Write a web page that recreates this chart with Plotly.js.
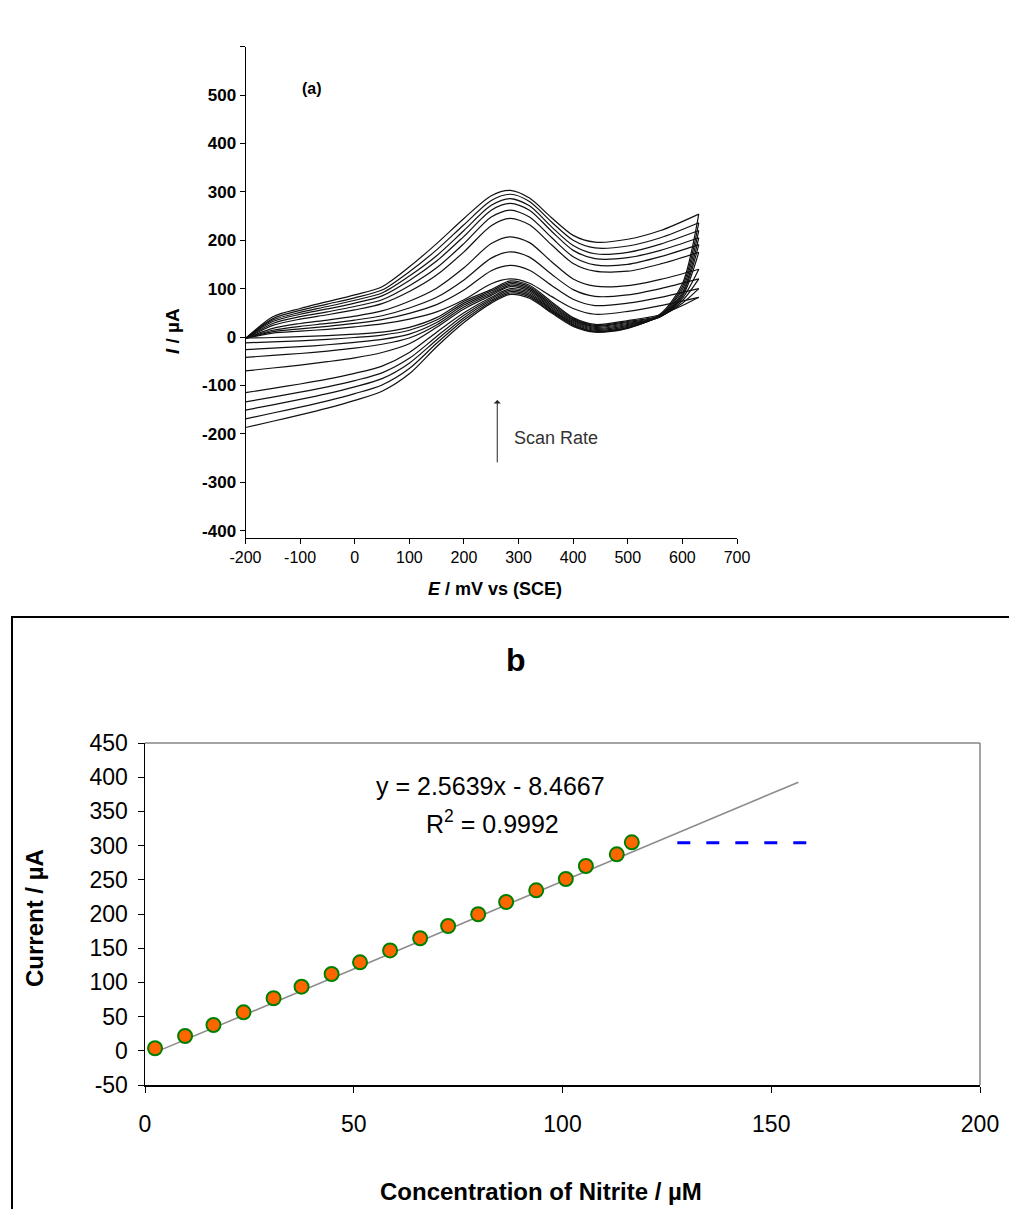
<!DOCTYPE html>
<html><head><meta charset="utf-8">
<script src="https://cdn.plot.ly/plotly-3.0.1.min.js"></script>
<style>body{margin:0;background:#fff}#chart{width:1009px;height:1209px}</style>
</head><body><div id="chart"></div>
<script>
// ---------- Panel (a): cyclic voltammograms ----------
const potentialUp = [-200,-150,-100,-50,0,50,100,150,200,250,285,320,360,400,440,500,560,630];
const upper1  = [-3,42,59,73,87,104,145,193,245,292,303,287,247,210,196,202,220,254];
const upper2  = [-3,38,55,68,81,97,135,180,232,282,295,280,238,200,184,188,205,236];
const upper3  = [-3,35,51,63,76,91,126,168,220,272,286,271,228,189,172,175,192,220];
const upper4  = [-3,32,47,58,70,85,117,157,208,262,276,262,219,179,162,164,179,205];
const upper5  = [-3,28,42,52,63,77,106,143,193,248,262,248,206,166,149,150,166,191];
const upper6  = [-3,24,37,46,56,69,94,128,176,230,245,232,191,152,136,136,151,175];
const upper7  = [-3,18,28,35,43,54,74,101,143,193,207,195,156,120,105,106,119,140];
const upper8  = [-3,14,22,28,35,44,60,82,118,163,176,165,130,98,84,87,100,120];
const upper9  = [-3,11,17,22,28,36,49,67,97,137,148,138,107,78,65,70,82,100];
const upper10 = [-3,8,12,16,21,27,37,52,77,110,120,111,84,59,47,53,65,82];

const potentialLow = [-200,-150,-100,-50,0,50,100,150,200,250,285,320,360,400,440,500,560,600,630];
const lower1  = [-187,-174,-161,-147,-131,-112,-76,-20,30,70,88,80,50,22,10,18,48,110,254];
const lower2  = [-169,-157,-145,-132,-117,-99,-65,-13,35,73,91,83,52,24,11,19,46,104,236];
const lower3  = [-151,-140,-129,-117,-103,-86,-54,-6,40,76,94,86,54,26,12,20,45,98,220];
const lower4  = [-134,-124,-114,-103,-90,-74,-44,1,45,79,97,89,56,28,14,22,44,92,205];
const lower5  = [-115,-106,-97,-87,-75,-60,-32,10,50,82,100,92,58,30,16,24,43,88,191];
const lower6  = [-70,-64,-58,-51,-43,-32,-14,20,58,86,104,95,61,32,18,26,42,84,175];
const lower7  = [-42,-38,-34,-29,-23,-15,-2,25,62,89,107,98,64,34,20,28,42,80,140];
const lower8  = [-26,-23,-20,-16,-11,-5,6,30,66,92,110,101,67,36,22,30,43,75,120];
const lower9  = [-12,-10,-8,-5,-1,4,14,35,70,95,113,104,70,38,24,32,44,70,100];
const lower10 = [-2,-1,1,3,6,10,20,40,74,98,116,107,73,40,26,34,46,65,82];

const upperCurves = [upper1,upper2,upper3,upper4,upper5,upper6,upper7,upper8,upper9,upper10];
const lowerCurves = [lower1,lower2,lower3,lower4,lower5,lower6,lower7,lower8,lower9,lower10];
const potentialTicks = [-200,-100,0,100,200,300,400,500,600,700];
const potentialTickText = ['-200','-100','0','100','200','300','400','500','600','700'];
const currentTicksA = [-400,-300,-200,-100,0,100,200,300,400,500,600];
const currentTickTextA = ['-400','-300','-200','-100','0','100','200','300','400','500',''];

// ---------- Panel (b): calibration ----------
const concentration = [2.4,9.6,16.4,23.6,30.8,37.5,44.7,51.5,58.7,65.9,72.6,79.8,86.5,93.7,100.8,105.6,113.0,116.6];
const current = [3.7,21.6,37.7,56.3,76.8,93.7,112.3,129.4,146.8,164.5,182.5,199.6,217.5,234.6,251.2,270.2,287.3,304.8];
const slope = 2.5639, intercept = -8.4667;
const trendRange = [2.4, 156.5];
const plateauX = [127.5, 158.5];
const plateauY = [304, 304];
const concTicks = [0,50,100,150,200];
const concTickText = ['0','50','100','150','200'];
const currentTicksB = [-50,0,50,100,150,200,250,300,350,400,450];
const currentTickTextB = ['-50','0','50','100','150','200','250','300','350','400','450'];

const FONT = 'Arial, "Liberation Sans", sans-serif';
const traces = [];
upperCurves.forEach(c => traces.push({x: potentialUp, y: c, xaxis:'x', yaxis:'y', mode:'lines',
  line:{color:'#111', width:1.2, shape:'spline', smoothing:0.8}, hoverinfo:'skip'}));
lowerCurves.forEach(c => traces.push({x: potentialLow, y: c, xaxis:'x', yaxis:'y', mode:'lines',
  line:{color:'#111', width:1.2, shape:'spline', smoothing:0.8}, hoverinfo:'skip'}));

traces.push({x: trendRange, y: trendRange.map(v => slope*v + intercept), xaxis:'x2', yaxis:'y2',
  mode:'lines', line:{color:'#8c8c8c', width:1.6}});
traces.push({x: concentration, y: current, xaxis:'x2', yaxis:'y2', mode:'markers',
  marker:{color:'#ff6600', size:14, line:{color:'#008000', width:2}}});
traces.push({x: plateauX, y: plateauY, xaxis:'x2', yaxis:'y2', mode:'lines',
  line:{color:'#0000ff', width:3, dash:'13px,16px'}});

const W = 1009, H = 1209;
const px = v => v / W, py = v => 1 - v / H;
const ann = (x, y, text, size, extra) => Object.assign({xref:'paper', yref:'paper', x:px(x), y:py(y),
  xanchor:'center', yanchor:'middle', text:text, showarrow:false, font:{size:size}}, extra || {});

const layout = {
  width: W, height: H, showlegend:false,
  margin:{l:0,r:0,t:0,b:0}, paper_bgcolor:'#fff', plot_bgcolor:'rgba(0,0,0,0)',
  font:{family:FONT, color:'#000'},
  xaxis:{domain:[px(245.5), px(737)], range:[-200,700], tickvals:potentialTicks, ticktext:potentialTickText,
    showgrid:false, zeroline:false, showline:true, linecolor:'#000', linewidth:1,
    ticks:'outside', ticklen:5, tickcolor:'#000', tickfont:{size:16, family:FONT}, anchor:'y'},
  yaxis:{domain:[py(537.9), py(46.6)], range:[-415,600], tickvals:currentTicksA, ticktext:currentTickTextA,
    showgrid:false, zeroline:false, showline:true, linecolor:'#000', linewidth:1,
    ticks:'outside', ticklen:5, tickcolor:'#000', tickfont:{size:17, family:FONT, weight:'bold'}, anchor:'x'},
  xaxis2:{domain:[px(145), px(980)], range:[0,200], tickvals:concTicks, ticktext:concTickText,
    showgrid:false, zeroline:false, showline:true, linecolor:'#000', linewidth:1.5,
    ticks:'outside', ticklen:6, tickcolor:'#000', tickfont:{size:23, family:FONT},
    ticklabelstandoff:12, anchor:'y2'},
  yaxis2:{domain:[py(1085), py(743)], range:[-50,450], tickvals:currentTicksB, ticktext:currentTickTextB,
    showgrid:false, zeroline:false, showline:true, linecolor:'#000', linewidth:1.5,
    ticks:'outside', ticklen:6, tickcolor:'#000', tickfont:{size:23, family:FONT},
    ticklabelstandoff:5, anchor:'x2'},
  shapes:[
    {type:'line', xref:'paper', yref:'paper', x0:px(145), x1:px(980), y0:py(743), y1:py(743), line:{color:'#868686', width:1.5}},
    {type:'line', xref:'paper', yref:'paper', x0:px(980), x1:px(980), y0:py(743), y1:py(1085), line:{color:'#868686', width:1.5}},
    {type:'rect', xref:'paper', yref:'paper', x0:px(12), x1:px(1015), y0:py(617), y1:py(1215), line:{color:'#000', width:2}}
  ],
  annotations:[
    ann(312, 88, '<b>(a)</b>', 16),
    ann(172, 331, '<b><i>I</i> / µA</b>', 19, {textangle:-90}),
    ann(495, 589, '<b><i>E</i> / mV vs (SCE)</b>', 18),
    {xref:'x', yref:'y', x:261, y:-130, ax:261, ay:-262, axref:'x', ayref:'y', text:'', showarrow:true,
      arrowhead:1, arrowsize:1.2, arrowwidth:1, arrowcolor:'#222'},
    ann(556, 438, 'Scan Rate', 18, {font:{size:18, color:'#333'}}),
    ann(516, 660, '<b>b</b>', 32),
    ann(490, 786, 'y = 2.5639x - 8.4667', 25),
    ann(492, 822, 'R<sup>2</sup> = 0.9992', 25),
    ann(35, 918, '<b>Current / µA</b>', 24, {textangle:-90}),
    ann(541, 1191, '<b>Concentration of Nitrite / µM</b>', 24)
  ]
};
Plotly.newPlot('chart', traces, layout, {staticPlot:true, displayModeBar:false});
</script></body></html>
